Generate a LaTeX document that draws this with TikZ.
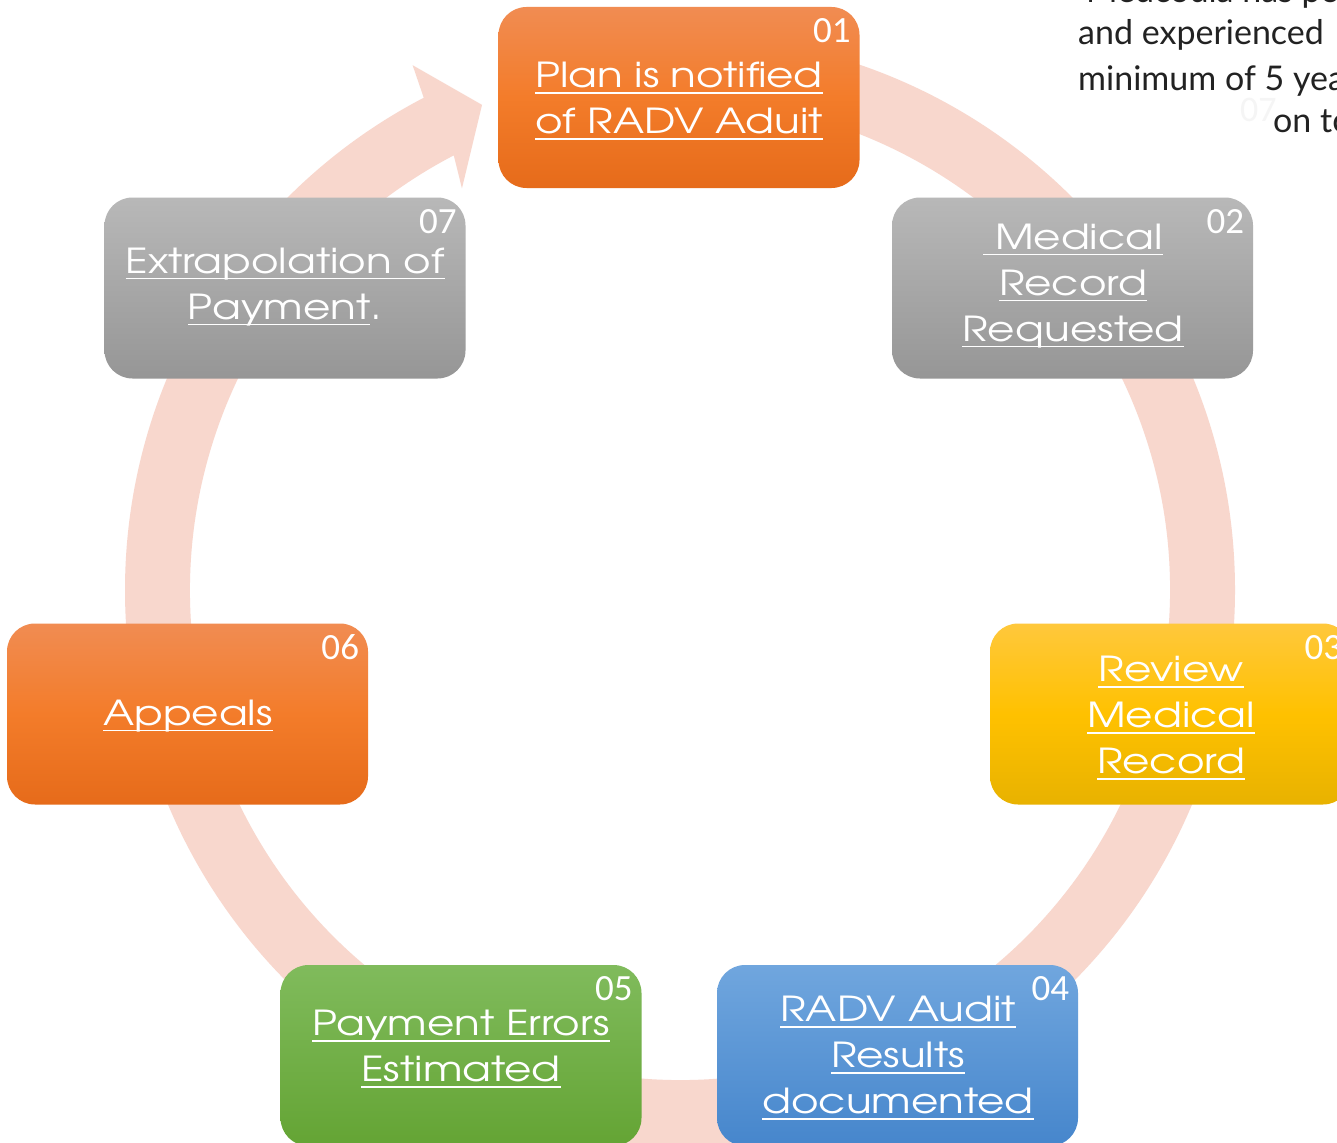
\documentclass[tikz,border=0pt]{standalone}
\usepackage{fontspec}
\setmainfont[FakeStretch=1.22]{texgyreadventor-regular.otf}
\newfontfamily\numfont{Carlito}
\newfontfamily\bodyfont{Lato}
\definecolor{ringc}{RGB}{248,215,205}
\definecolor{orT}{RGB}{241,140,82}
\definecolor{orM}{RGB}{243,124,42}
\definecolor{orB}{RGB}{230,107,26}
\definecolor{grT}{RGB}{184,184,184}
\definecolor{grB}{RGB}{150,150,150}
\definecolor{yeT}{RGB}{255,200,60}
\definecolor{yeM}{RGB}{255,193,0}
\definecolor{yeB}{RGB}{232,178,0}
\definecolor{blT}{RGB}{112,166,222}
\definecolor{blB}{RGB}{70,134,204}
\definecolor{gnT}{RGB}{128,187,92}
\definecolor{gnB}{RGB}{100,164,52}
\definecolor{txtc}{RGB}{34,34,34}
\newcommand\uln[1]{\setbox0\hbox{#1}\rlap{\rule[-6pt]{\wd0}{1.8pt}}\box0}
\tikzset{
  stepbox/.style={rounded corners=28pt, minimum width=361pt, minimum height=181pt, inner sep=0pt, draw=none},
  orbox/.style={stepbox, top color=orT, bottom color=orB, middle color=orM},
  grbox/.style={stepbox, top color=grT, bottom color=grB},
  yebox/.style={stepbox, top color=yeT, bottom color=yeB, middle color=yeM},
  blbox/.style={stepbox, top color=blT, bottom color=blB},
  gnbox/.style={stepbox, top color=gnT, bottom color=gnB},
  lbl/.style={text=white, align=center, inner sep=0pt, font=\fontsize{34.5}{46}\selectfont},
  num/.style={text=white, inner sep=0pt, anchor=base east, font=\numfont\fontsize{37}{40}\selectfont},
  side/.style={text=txtc, inner sep=0pt, anchor=base west, font=\bodyfont\fontsize{34}{40}\selectfont}
}
\begin{document}
\begin{tikzpicture}[x=1pt, y=-1pt]
\useasboundingbox (0,0) rectangle (1337,1142);
\clip (0,0) rectangle (1337,1142);
\fill[white] (0,0) rectangle (1337,1142);
% ring with arrow head
\begin{scope}[shift={(680,590)}, yscale=-1]
  \fill[ringc] (90:555) arc[start angle=90, end angle=-242.5, radius=555]
    -- (117:589) -- (112.2:524) -- (118.5:457) -- (-242.5:490)
    arc[start angle=-242.5, end angle=90, radius=490] -- cycle;
\end{scope}
% side text
\node[side] (s0) at (1086,3) {Medcodia has po};
\node[side] (s1) at (1078,45) {and experienced};
\node[side] (s2) at (1078,91) {minimum of 5 yea};
\node[side] (s3) at (1273,133) {on to};
\node[text=black!4, inner sep=0pt, anchor=base west, font=\numfont\fontsize{36}{40}\selectfont] (ghost) at (1240,122) {07};
% boxes
\node[orbox] (b1) at (679,97.5) {};
\node[grbox] (b2) at (1072.5,288) {};
\node[yebox] (b3) at (1170.5,714) {};
\node[blbox] (b4) at (897.5,1055.5) {};
\node[gnbox] (b5) at (461,1055.5) {};
\node[orbox] (b6) at (187.5,714) {};
\node[grbox] (b7) at (285,288) {};
% numbers
\foreach \b/\n in {b1/01,b2/02,b3/03,b4/04,b5/05,b6/06,b7/07}
  \node[num] (n\b) at ([xshift=-9pt,yshift=-36pt]\b.north east) {\n};
% labels
\node[lbl] (t1) at (679,101) {\uln{Plan is notified}\\\uln{of RADV Aduit}};
\node[lbl] (t2) at (1073,286) {\uln{ Medical}\\\uln{Record}\\\uln{Requested}};
\node[lbl] (t3) at (1171,718) {\uln{Review}\\\uln{Medical}\\\uln{Record}};
\node[lbl] (t4) at (898,1058) {\uln{RADV Audit}\\\uln{Results}\\\uln{documented}};
\node[lbl] (t5) at (461,1049) {\uln{Payment Errors}\\\uln{Estimated}};
\node[lbl] (t6) at (188,716) {\uln{Appeals}};
\node[lbl] (t7) at (285,287) {\uln{Extrapolation of}\\\uln{Payment}.};
\end{tikzpicture}
\end{document}
